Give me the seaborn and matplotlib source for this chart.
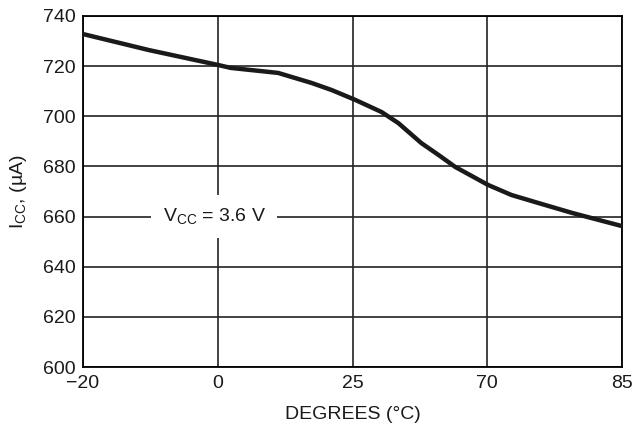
import numpy as np
import pandas as pd
import matplotlib
matplotlib.use('Agg')
import matplotlib.pyplot as plt
import seaborn as sns

# tick positions on the x axis (non uniform degrees, evenly spaced on the chart)
x_ticks = [-20, 0, 25, 70, 85]
y_ticks = [600, 620, 640, 660, 680, 700, 720, 740]

# supply current curve
temp_c = [-20, -10.2, 0, 2.4, 11.2, 17.4, 21.1, 26.0, 34.7, 40.3, 48.0, 53.7,
          59.3, 70.1, 72.7, 75.7, 79.5, 85]
icc_ua = [732.8, 726.4, 720.5, 719.3, 717.3, 713.3, 710.5, 706.5, 701.7, 697.3,
          689.3, 684.6, 679.8, 672.6, 668.6, 665.4, 661.4, 656.2]

sns.set_style('white')
plt.rcParams['font.family'] = ['Liberation Sans', 'DejaVu Sans']
plt.rcParams['mathtext.fontset'] = 'custom'
plt.rcParams['mathtext.rm'] = 'Liberation Sans'

df = pd.DataFrame({'temp': temp_c, 'icc': icc_ua})

fig = plt.figure(figsize=(6.38, 4.34), dpi=100)
ax = fig.add_axes([83 / 638, 1 - 367 / 434, (622 - 83) / 638, (367 - 16) / 434])

# piecewise scale so the uneven tick values sit at equal spacing
pos = np.arange(len(x_ticks))
fwd = lambda v: np.interp(v, x_ticks, pos)
inv = lambda v: np.interp(v, pos, x_ticks)
ax.set_xscale('function', functions=(fwd, inv))

for xv in x_ticks:
    ax.axvline(xv, color='#222222', lw=1.2, zorder=1)
for yv in y_ticks:
    ax.axhline(yv, color='#222222', lw=1.2, zorder=1)

sns.lineplot(data=df, x='temp', y='icc', color='#1a1a1a', lw=3.2, ax=ax, zorder=3)

ax.set_xlim(-20, 85)
ax.set_ylim(600, 740)
ax.set_xticks(x_ticks)
ax.set_xticklabels(['\u221220', '0', '25', '70', '85'])
ax.set_yticks(y_ticks)
ax.tick_params(length=0, labelsize=14, pad=5, labelcolor='#1a1a1a')
ax.tick_params(axis='x', pad=6)

ax.set_xlabel('DEGREES (°C)', fontsize=14, labelpad=10, color='#1a1a1a')
ax.set_ylabel(r'I$_{\mathrm{CC}}$, (µA)', fontsize=14, labelpad=10, color='#1a1a1a')

ax.text(-8.2, 660, r'V$_{\mathrm{CC}}$ = 3.6 V', fontsize=14, ha='left', va='center',
        color='#1a1a1a', zorder=4,
        bbox=dict(facecolor='white', edgecolor='none', pad=8))

for s in ax.spines.values():
    s.set_color('black')
    s.set_linewidth(1.3)

fig.savefig('out.png', dpi=100)
